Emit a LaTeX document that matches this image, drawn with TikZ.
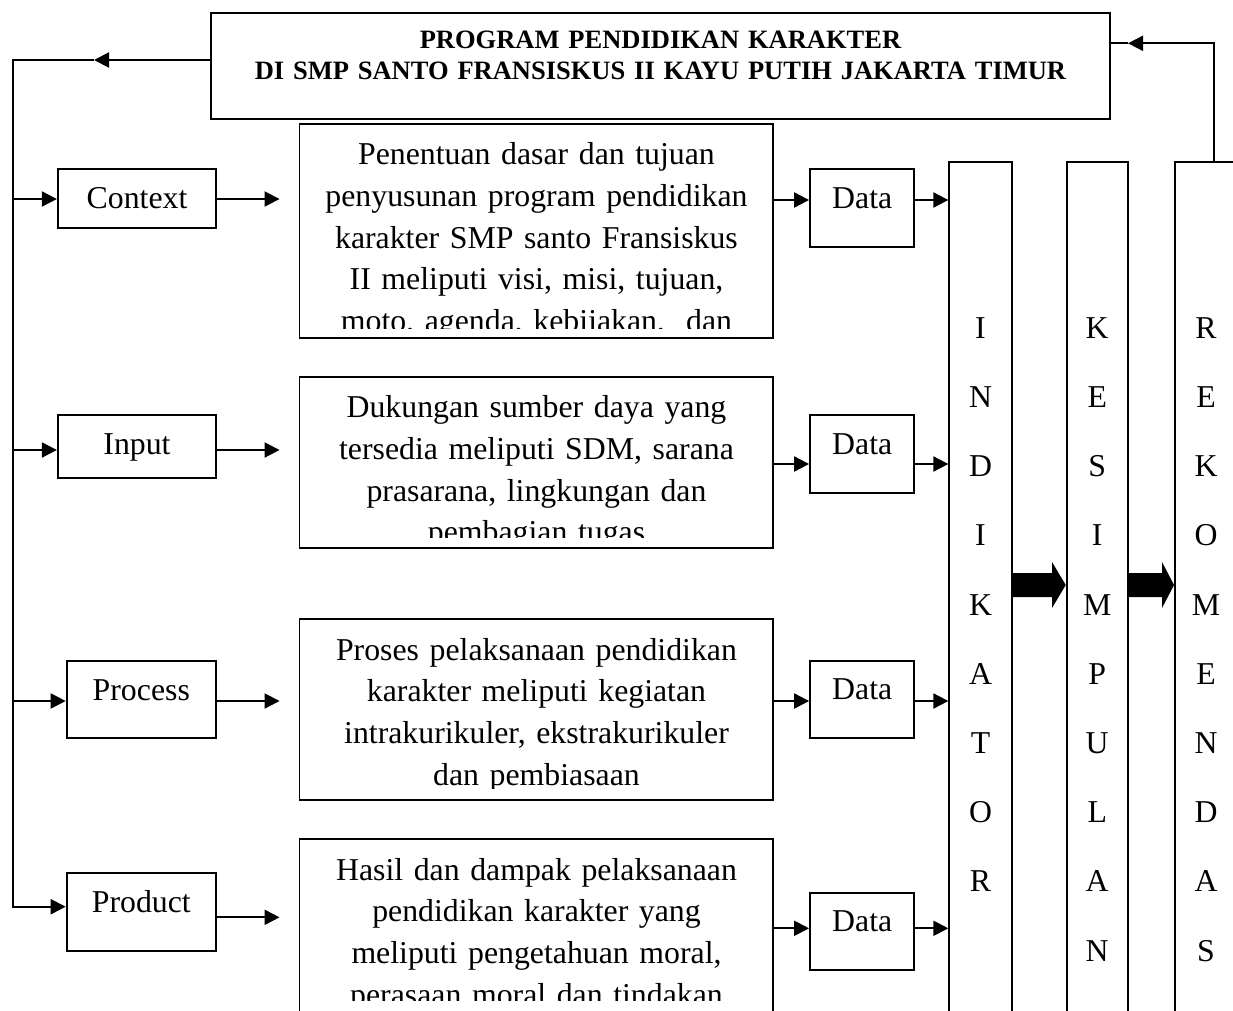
\documentclass[tikz,border=0pt]{standalone}
\usepackage{fontspec}
\setmainfont{Liberation Serif}
\usetikzlibrary{arrows.meta,calc}
\newcommand\myBody{\fontsize{31.8pt}{41.7pt}\selectfont}
\newcommand\myTitle{\bfseries\fontsize{26.5pt}{30.7pt}\selectfont}
\newcommand\myCol{\fontsize{31.8pt}{69.2pt}\selectfont}
\tikzset{
  box/.style 2 args={draw, line width=1.9pt, inner sep=0pt, minimum width=#1, minimum height=#2},
  lbl/.style={font=\myBody, inner sep=0pt, anchor=base},
  para/.style={font=\myBody, inner sep=0pt, anchor=north, text width=465pt, align=center},
  colletters/.style={font=\myCol, inner sep=0pt, anchor=north, text width=40pt, align=center},
  line/.style={line width=1.9pt},
  conn/.style={line width=1.9pt, -{Triangle[length=15pt,width=15pt]}},
}
\begin{document}
\begin{tikzpicture}[x=1pt,y=-1pt]
\useasboundingbox (0,0) rectangle (1233,1010);
\clip (0,0) rectangle (1233,1010);
% title
\node[box={899.3pt}{106.3pt}] (title) at (660.35,65.85) {};
\node[font=\myTitle, inner sep=0pt, anchor=north, text width=880pt, align=center] (ttext) at (660.5,26.8)
  {\strut PROGRAM PENDIDIKAN KARAKTER\\DI SMP SANTO FRANSISKUS II KAYU PUTIH JAKARTA TIMUR};
% left boxes
\node[box={158.3pt}{58.4pt}] (ctx) at (137,198.5) {};
\node[lbl] (ctxt) at ([yshift=-40.5pt]ctx.north) {Context};
\node[box={158.3pt}{63.3pt}] (inp) at (137,446.6) {};
\node[lbl] (inpt) at ([yshift=-40.5pt]inp.north) {Input};
\node[box={149.3pt}{77.6pt}] (proc) at (141.3,699.5) {};
\node[lbl] (proct) at ([yshift=-40.5pt]proc.north) {Process};
\node[box={149.3pt}{78pt}] (prod) at (141.3,911.7) {};
\node[lbl] (prodt) at ([yshift=-40.5pt]prod.north) {Product};
% text boxes
\node[box={473.5pt}{214.3pt}] (b1) at (536.25,231.15) {};
\node[box={473.5pt}{171.3pt}] (b2) at (536.25,462.65) {};
\node[box={473.5pt}{180.7pt}] (b3) at (536.25,709.65) {};
\node[box={473.5pt}{200pt}] (b4) at (536.25,939.3) {};
\begin{scope}
\clip (300,124) rectangle (773,328);
\node[para] (t1) at (536.5,135.3) {\strut Penentuan dasar dan tujuan\\penyusunan program pendidikan\\karakter SMP santo Fransiskus\\II meliputi visi, misi, tujuan,\\moto, agenda, kebijakan,\ \ dan};
\end{scope}
\begin{scope}
\clip (300,377) rectangle (773,537);
\node[para] (t2) at (536.5,388.3) {\strut Dukungan sumber daya yang\\tersedia meliputi SDM, sarana\\prasarana, lingkungan dan\\pembagian tugas};
\end{scope}
\begin{scope}
\clip (300,619) rectangle (773,788);
\node[para] (t3) at (536.5,630.6) {\strut Proses pelaksanaan pendidikan\\karakter meliputi kegiatan\\intrakurikuler, ekstrakurikuler\\dan pembiasaan};
\end{scope}
\begin{scope}
\clip (300,839) rectangle (773,1000);
\node[para] (t4) at (536.5,850.6) {\strut Hasil dan dampak pelaksanaan\\pendidikan karakter yang\\meliputi pengetahuan moral,\\perasaan moral dan tindakan};
\end{scope}
% data boxes
\node[box={104.3pt}{78pt}] (d1) at (862.2,208.3) {};
\node[lbl] (d1t) at ([yshift=-40pt]d1.north) {Data};
\node[box={104.3pt}{78pt}] (d2) at (862.2,454) {};
\node[lbl] (d2t) at ([yshift=-40pt]d2.north) {Data};
\node[box={104.3pt}{77.3pt}] (d3) at (862.2,699.5) {};
\node[lbl] (d3t) at ([yshift=-40pt]d3.north) {Data};
\node[box={104.3pt}{77.3pt}] (d4) at (862.2,931.3) {};
\node[lbl] (d4t) at ([yshift=-40pt]d4.north) {Data};
% columns
\node[box={62.4pt}{868.3pt}] (col1) at (980.5,595.85) {};
\node[box={61pt}{868.3pt}] (col2) at (1097.2,595.85) {};
\node[box={65pt}{868.3pt}] (col3) at (1207.5,595.85) {};
\node[colletters] (l1) at (980.5,289.6) {\strut I\\N\\D\\I\\K\\A\\T\\O\\R};
\node[colletters] (l2) at (1097.2,289.6) {\strut K\\E\\S\\I\\M\\P\\U\\L\\A\\N};
\node[colletters] (l3) at (1206,289.6) {\strut R\\E\\K\\O\\M\\E\\N\\D\\A\\S};
% block arrows
\fill (col1.east |- 0,573) -- (1052,573) -- (1052,562) -- (col2.west |- 0,585) -- (1052,608) -- (1052,597) -- (col1.east |- 0,597) -- cycle;
\fill (col2.east |- 0,573) -- (1162,573) -- (1162,562) -- (col3.west |- 0,585) -- (1162,608) -- (1162,597) -- (col2.east |- 0,597) -- cycle;
% left feedback line
\coordinate (Ltop) at (13,60);
\coordinate (Lmid) at (94,60);
\draw[conn] (title.west |- Lmid) -- (Lmid);
\draw[conn] (Lmid) -- (Ltop) -- (13,906.7) -- (prod.west |- 0,906.7);
\draw[conn] (13,199) -- (ctx.west |- 0,199);
\draw[conn] (13,450) -- (inp.west |- 0,450);
\draw[conn] (13,701) -- (proc.west |- 0,701);
% to text boxes
\draw[conn] (ctx.east |- 0,199) -- ([xshift=-19pt]b1.west |- 0,199);
\draw[conn] (inp.east |- 0,450) -- ([xshift=-19pt]b2.west |- 0,450);
\draw[conn] (proc.east |- 0,701) -- ([xshift=-19pt]b3.west |- 0,701);
\draw[conn] (prod.east |- 0,917.3) -- ([xshift=-19pt]b4.west |- 0,917.3);
% to data boxes
\draw[conn] (b1.east |- 0,200) -- (d1.west |- 0,200);
\draw[conn] (b2.east |- 0,464) -- (d2.west |- 0,464);
\draw[conn] (b3.east |- 0,701) -- (d3.west |- 0,701);
\draw[conn] (b4.east |- 0,928.3) -- (d4.west |- 0,928.3);
% data to indikator
\draw[conn] (d1.east |- 0,200) -- (col1.west |- 0,200);
\draw[conn] (d2.east |- 0,464) -- (col1.west |- 0,464);
\draw[conn] (d3.east |- 0,701) -- (col1.west |- 0,701);
\draw[conn] (d4.east |- 0,928.3) -- (col1.west |- 0,928.3);
% right feedback line
\coordinate (Rmid) at (1128,43.3);
\draw[conn] (1214,0 |- col3.north) -- (1214,43.3) -- (Rmid);
\draw[line] (Rmid) -- (title.east |- Rmid);
\end{tikzpicture}
\end{document}
